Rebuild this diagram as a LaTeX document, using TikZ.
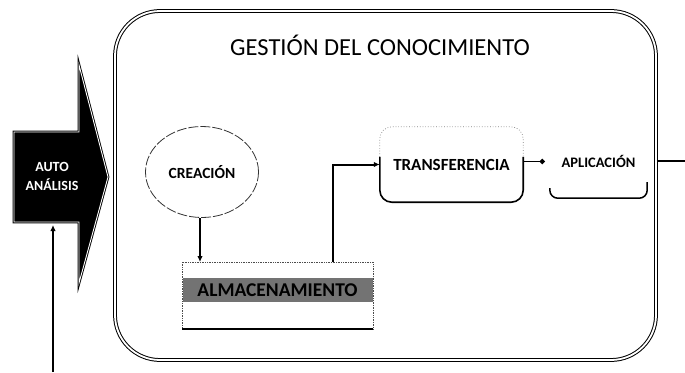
\documentclass[tikz,border=0pt]{standalone}
\usepackage{fontspec}
\setmainfont{Carlito}
\usetikzlibrary{shapes.geometric,arrows.meta,calc}
\tikzset{
  conn/.style={line width=2pt,-{Latex[length=6pt,width=5.5pt]}},
  lbl/.style={font=\bfseries\fontsize{#1}{#1}\selectfont},
}
\begin{document}
\begin{tikzpicture}[x=1pt,y=-1pt]
\useasboundingbox (0,0) rectangle (685,372);
% main rounded box
\node[draw, double, double distance=1.8pt, line width=1pt, rounded corners=45pt,
      minimum width=541pt, minimum height=349pt, inner sep=0pt] (main) at (385.5,185.5) {};
\node[font=\fontsize{24.5}{28}\selectfont] (title) at (380,45) {GESTIÓN DEL CONOCIMIENTO};
% big block arrow
\draw[fill=black, line width=0.9pt, double=white, double distance=0.9pt]
  (14,132) -- (79,132) -- (79,65) -- (108,177) -- (79,283) -- (79,222) -- (14,222) -- cycle;
\node[lbl=14, text=white, align=center, inner sep=0pt] (auto) at (52,176) {AUTO\\[5pt]ANÁLISIS};
\coordinate (botstart) at (53,372);
\coordinate (botend) at (53,225);
\draw[conn] (botstart) -- (botend);
% creacion
\node[ellipse, draw=black!80, line width=0.8pt, dash pattern=on 10pt off 2pt,
      minimum width=113pt, minimum height=91pt, inner sep=0pt, lbl=15.5] (crea) at (202,172) {CREACIÓN};
% almacenamiento
\node[fill=black!55, minimum width=190pt, minimum height=24pt, inner sep=0pt, lbl=19.5] (alm) at (277.5,290) {ALMACENAMIENTO};
\coordinate (almTL) at (182,262);
\coordinate (almTR) at (373,262);
\coordinate (almBL) at (182,329);
\coordinate (almBR) at (373,329);
\draw[black!70, densely dotted, line width=0.7pt] (almBL) -- (almTL) -- (almTR) -- (almBR);
\draw[line width=2.2pt] (almBL) -- (almBR);
\coordinate (almIn) at (200,262);
\coordinate (almOut) at (333,262);
\draw[conn] (crea.south -| almIn) -- (almIn);
% transferencia
\node[minimum width=143pt, minimum height=75pt, inner sep=0pt, lbl=17] (transf) at (451.5,164.5) {TRANSFERENCIA};
\draw[line width=1.6pt, rounded corners=12pt] ($(transf.north west)+(0,30)$) -- (transf.south west) -- (transf.south east) -- ($(transf.north east)+(0,30)$);
\draw[black!50, dotted, line width=0.7pt, rounded corners=12pt] ($(transf.north west)+(0,30)$) -- (transf.north west) -- (transf.north east) -- ($(transf.north east)+(0,30)$);
\draw[conn] (almOut) |- (transf.west);
% aplicacion
\node[minimum width=97pt, minimum height=73pt, inner sep=0pt, lbl=14.5] (aplic) at (598.5,161.5) {APLICACIÓN};
\draw[line width=1.5pt, rounded corners=8pt] ($(aplic.south west)+(0,-10)$) -- (aplic.south west) -- (aplic.south east) -- ($(aplic.south east)+(0,-16)$);
\draw[line width=1.8pt, -{Circle[length=5pt]}] (transf.east |- aplic.west) -- ($(aplic.west)+(-5,0)$);
% exit line
\coordinate (exitR) at (685,161);
\draw[line width=1.2pt] (exitR -| main.east) -- (exitR);
\end{tikzpicture}
\end{document}
